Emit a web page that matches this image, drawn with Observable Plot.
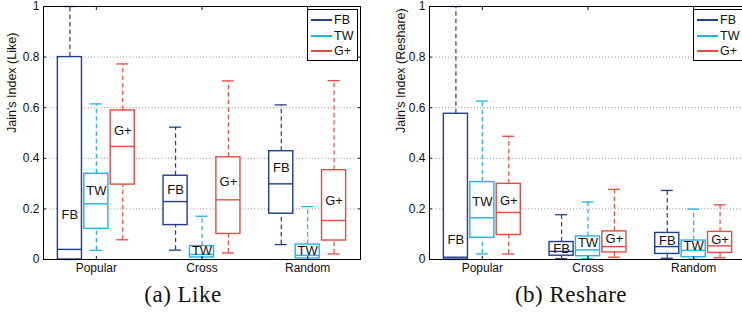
<!DOCTYPE html>
<html><head><meta charset="utf-8">
<script src="https://cdn.jsdelivr.net/npm/d3@7"></script>
<script src="https://cdn.jsdelivr.net/npm/@observablehq/plot@0.6"></script>
<style>
html,body{margin:0;padding:0;background:#fff;}
#wrap{position:relative;width:742px;height:316px;overflow:hidden;font-family:"Liberation Sans",Arial,sans-serif;color:#111;}
.panel{position:absolute;top:0;}
.legend{position:absolute;top:9px;width:51px;height:52px;border:1px solid #000;background:#fff;box-sizing:border-box;font-size:12.5px;}
.legend .row{position:absolute;left:0;height:14px;}
.legend .sw{position:absolute;left:3px;top:6px;width:21px;height:2px;}
.legend .tx{position:absolute;left:26px;top:0;line-height:14px;white-space:nowrap;}
.caption{position:absolute;top:282px;font-family:"Liberation Serif","Times New Roman",serif;font-size:23px;letter-spacing:0.5px;transform:translateX(-50%);white-space:nowrap;}
</style>
</head><body>
<div id="wrap"></div>
<script>
// ---- data ----
const categories = ["Popular", "Cross", "Random"];
const seriesNames = ["FB", "TW", "G+"];
const seriesColors = ["#1f3c8f", "#1eb3ea", "#e64a3c"];
const yTicks = [0, 0.2, 0.4, 0.6, 0.8, 1];
const gridTicks = [0.2, 0.4, 0.6, 0.8];
// order: Popular FB,TW,G+ | Cross FB,TW,G+ | Random FB,TW,G+
const likeLow   = [0,    0.036, 0.078, 0.037, 0,     0.026, 0.059, 0,     0.022];
const likeQ1    = [0,    0.121, 0.296, 0.136, 0.008, 0.101, 0.181, 0.004, 0.075];
const likeMed   = [0.04, 0.22,  0.447, 0.229, 0.02,  0.236, 0.299, 0.016, 0.154];
const likeQ3    = [0.8,  0.339, 0.589, 0.331, 0.053, 0.404, 0.428, 0.059, 0.353];
const likeHigh  = [1,    0.615, 0.773, 0.523, 0.171, 0.706, 0.611, 0.209, 0.707];
const likeLabel = [0.177, 0.273, 0.51, 0.275, 0.033, 0.308, 0.361, 0.033, 0.233];

const reshareLow   = [0,     0.022, 0.022, 0.003, 0.003, 0.009, 0.005, 0.001, 0.007];
const reshareQ1    = [0,     0.086, 0.097, 0.015, 0.013, 0.028, 0.022, 0.009, 0.026];
const reshareMed   = [0.009, 0.165, 0.186, 0.032, 0.038, 0.051, 0.051, 0.036, 0.054];
const reshareQ3    = [0.576, 0.306, 0.299, 0.069, 0.091, 0.111, 0.105, 0.075, 0.109];
const reshareHigh  = [1,     0.626, 0.487, 0.177, 0.227, 0.277, 0.273, 0.199, 0.216];
const reshareLabel = [0.078, 0.227, 0.233, 0.042, 0.065, 0.083, 0.075, 0.055, 0.079];

// ---- layout constants ----
const groupStep = 0.25, boxHalf = 0.114, capHalf = 0.057;

function buildRows(low, q1, med, q3, high, lab) {
  const rows = [];
  categories.forEach((c, ci) => seriesNames.forEach((s, si) => {
    const k = ci * seriesNames.length + si;
    rows.push({category: c, series: s, x: ci + (si - 1) * groupStep,
      low: low[k], q1: q1[k], med: med[k], q3: q3[k], high: high[k], label: lab[k]});
  }));
  return rows;
}

function panel(rows, yLabel, cfg) {
  const fmt = d => String(d);
  return Plot.plot({
    width: cfg.width, height: 280,
    marginLeft: cfg.marginLeft, marginRight: cfg.marginRight, marginTop: 6, marginBottom: 21,
    style: {fontFamily: '"Liberation Sans", Arial, sans-serif', background: "white", color: "#111"},
    x: {domain: [-0.5, categories.length - 0.5], label: null},
    y: {domain: [0, 1], label: null},
    color: {domain: seriesNames, range: seriesColors},
    marks: [
      Plot.gridY(gridTicks, {stroke: "#8a8a8a", strokeOpacity: 1, strokeDasharray: "1,2.2"}),
      Plot.ruleX(rows, {x: "x", y1: "q3", y2: "high", stroke: "series", strokeWidth: 1.2, strokeDasharray: "4.5,3"}),
      Plot.ruleX(rows, {x: "x", y1: "low", y2: "q1", stroke: "series", strokeWidth: 1.2, strokeDasharray: "4.5,3"}),
      Plot.ruleY(rows, {y: "high", x1: d => d.x - capHalf, x2: d => d.x + capHalf, stroke: "series", strokeWidth: 1.3}),
      Plot.ruleY(rows, {y: "low", x1: d => d.x - capHalf, x2: d => d.x + capHalf, stroke: "series", strokeWidth: 1.3}),
      Plot.rect(rows, {x1: d => d.x - boxHalf, x2: d => d.x + boxHalf, y1: "q1", y2: "q3", fill: "white", stroke: "series", strokeWidth: 1.4}),
      Plot.ruleY(rows, {y: "med", x1: d => d.x - boxHalf, x2: d => d.x + boxHalf, stroke: "series", strokeWidth: 1.4}),
      Plot.text(rows, {x: "x", y: "label", text: "series", fontSize: 13, fill: "#111"}),
      Plot.axisY(yTicks, {anchor: "left", tickSize: 0, tickPadding: 4, tickFormat: fmt, fontSize: 12, label: null}),
      Plot.axisY(yTicks, {anchor: "left", tickSize: -3, tickFormat: () => "", label: null}),
      Plot.axisY(yTicks, {anchor: "right", tickSize: -3, tickFormat: () => "", label: null}),
      Plot.axisX([0, 1, 2], {anchor: "bottom", tickSize: 0, tickPadding: 4, tickFormat: i => categories[i], fontSize: 12, label: null}),
      Plot.axisX([0, 1, 2], {anchor: "bottom", tickSize: -3, tickFormat: () => "", label: null}),
      Plot.axisX([0, 1, 2], {anchor: "top", tickSize: -3, tickFormat: () => "", label: null}),
      Plot.text([yLabel], {frameAnchor: "left", rotate: -90, dx: cfg.titleDx, fontSize: 12.5, fill: "#111"}),
      Plot.frame({stroke: "#000", strokeWidth: 1})
    ]
  });
}

function legend(left) {
  const el = document.createElement("div");
  el.className = "legend";
  el.style.left = left + "px";
  seriesNames.forEach((s, i) => {
    const row = document.createElement("div");
    row.className = "row";
    row.style.top = (3 + i * 15.5) + "px";
    const sw = document.createElement("div");
    sw.className = "sw"; sw.style.background = seriesColors[i];
    const tx = document.createElement("div");
    tx.className = "tx"; tx.textContent = s;
    row.appendChild(sw); row.appendChild(tx);
    el.appendChild(row);
  });
  return el;
}

const wrap = document.getElementById("wrap");
const left = panel(buildRows(likeLow, likeQ1, likeMed, likeQ3, likeHigh, likeLabel), "Jain's Index (Like)",
  {width: 370, marginLeft: 43, marginRight: 10, titleDx: -32});
left.classList.add("panel"); left.style.left = "0px";
wrap.appendChild(left);
const right = panel(buildRows(reshareLow, reshareQ1, reshareMed, reshareQ3, reshareHigh, reshareLabel), "Jain's Index (Reshare)",
  {width: 380, marginLeft: 59, marginRight: 4, titleDx: -29});
right.classList.add("panel"); right.style.left = "370px";
wrap.appendChild(right);
wrap.appendChild(legend(307));
wrap.appendChild(legend(693));

const capA = document.createElement("div");
capA.className = "caption"; capA.style.left = "183px"; capA.textContent = "(a) Like";
const capB = document.createElement("div");
capB.className = "caption"; capB.style.left = "571px"; capB.textContent = "(b) Reshare";
wrap.appendChild(capA); wrap.appendChild(capB);
</script>
</body></html>
